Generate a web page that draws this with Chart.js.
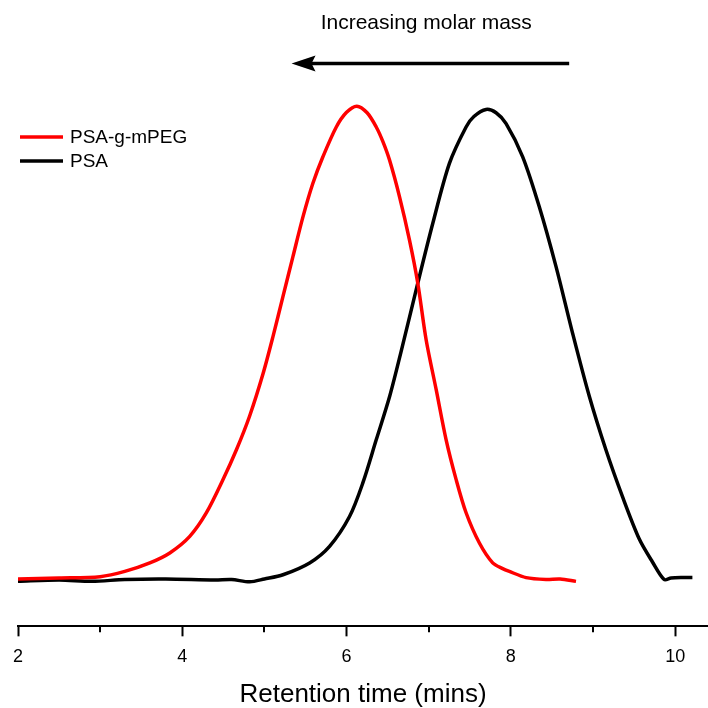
<!DOCTYPE html>
<html><head><meta charset="utf-8">
<script src="https://cdn.jsdelivr.net/npm/chart.js@4/dist/chart.umd.min.js"></script>
<style>html,body{margin:0;padding:0;background:#fff}#wrap{width:708px;height:708px}</style>
</head><body><div id="wrap"><canvas id="c" width="708" height="708"></canvas></div>
<script>
// ---- data ----
const seriesLabels = ['PSA-g-mPEG', 'PSA'];
const redX = [2.0, 2.5, 3.0, 3.3, 3.605, 3.848, 4.091, 4.294, 4.496, 4.659, 4.821, 4.982, 5.104, 5.226, 5.347, 5.469, 5.590, 5.712, 5.875, 6.00, 6.125, 6.25, 6.361, 6.44, 6.523, 6.644, 6.766, 6.867, 6.969, 7.091, 7.212, 7.334, 7.455, 7.617, 7.779, 7.90, 7.982, 8.185, 8.428, 8.60, 8.793];
const redY = [0.000, 0.002, 0.005, 0.016, 0.034, 0.055, 0.090, 0.140, 0.210, 0.273, 0.345, 0.433, 0.512, 0.597, 0.681, 0.765, 0.836, 0.892, 0.955, 0.986, 0.999, 0.985, 0.955, 0.925, 0.885, 0.808, 0.716, 0.625, 0.505, 0.400, 0.294, 0.210, 0.140, 0.076, 0.034, 0.022, 0.016, 0.003, -0.001, 0.000, -0.005];
const blackX = [2.0, 2.5, 2.9, 3.3, 3.8, 4.4, 4.6, 4.821, 5.0, 5.226, 5.550, 5.793, 6.036, 6.198, 6.361, 6.523, 6.663, 6.847, 7.049, 7.252, 7.455, 7.55, 7.698, 7.82, 7.942, 8.144, 8.347, 8.550, 8.752, 8.955, 9.157, 9.359, 9.562, 9.724, 9.866, 9.95, 10.089, 10.210];
const blackY = [-0.005, -0.002, -0.005, -0.001, 0.000, -0.002, -0.001, -0.006, 0.000, 0.009, 0.034, 0.069, 0.132, 0.203, 0.294, 0.385, 0.480, 0.611, 0.751, 0.878, 0.955, 0.977, 0.992, 0.985, 0.962, 0.892, 0.786, 0.660, 0.519, 0.386, 0.273, 0.174, 0.085, 0.036, -0.001, 0.002, 0.003, 0.003];
const majorTicks = [2, 4, 6, 8, 10];
const minorTicks = [3, 5, 7, 9];
const xTitle = 'Retention time (mins)';
const arrowLabel = 'Increasing molar mass';
const arrowStart = {x: 8.71, y: 1.089};
const arrowEnd = {x: 5.33, y: 1.089};
const arrowLabelPos = {x: 6.97, y: 1.175};

const toPts = (xs, ys) => xs.map((x, i) => ({x, y: ys[i]}));
const FONT = '"Liberation Sans", Arial, sans-serif';

const decor = {
  id: 'decor',
  afterDraw(chart) {
    const ctx = chart.ctx, xs = chart.scales.x, ys = chart.scales.y;
    const bottom = chart.chartArea.bottom;
    ctx.save();
    // minor ticks
    ctx.strokeStyle = '#000'; ctx.lineWidth = 2;
    minorTicks.forEach(v => {
      const px = Math.round(xs.getPixelForValue(v));
      ctx.beginPath(); ctx.moveTo(px, bottom); ctx.lineTo(px, bottom + 6); ctx.stroke();
    });
    // legend
    ctx.font = '19px ' + FONT; ctx.textBaseline = 'middle'; ctx.textAlign = 'left';
    chart.data.datasets.forEach((ds, i) => {
      const y = 137 + i * 24;
      ctx.strokeStyle = ds.borderColor; ctx.lineWidth = 3.5;
      ctx.beginPath(); ctx.moveTo(20, y); ctx.lineTo(63, y); ctx.stroke();
      ctx.fillStyle = '#000'; ctx.fillText(ds.label, 70, y + 1);
    });
    // arrow
    const x1 = xs.getPixelForValue(arrowStart.x), y1 = ys.getPixelForValue(arrowStart.y);
    const x2 = xs.getPixelForValue(arrowEnd.x), y2 = ys.getPixelForValue(arrowEnd.y);
    ctx.strokeStyle = '#000'; ctx.fillStyle = '#000'; ctx.lineWidth = 3.5;
    ctx.beginPath(); ctx.moveTo(x1, y1); ctx.lineTo(x2 + 18, y2); ctx.stroke();
    ctx.beginPath(); ctx.moveTo(x2, y2); ctx.lineTo(x2 + 24, y2 - 8); ctx.lineTo(x2 + 20, y2); ctx.lineTo(x2 + 24, y2 + 8); ctx.closePath(); ctx.fill();
    ctx.font = '21px ' + FONT; ctx.textAlign = 'center'; ctx.textBaseline = 'middle';
    ctx.fillText(arrowLabel, xs.getPixelForValue(arrowLabelPos.x), ys.getPixelForValue(arrowLabelPos.y));
    ctx.restore();
  }
};

new Chart(document.getElementById('c'), {
  type: 'line',
  data: {
    datasets: [
      {label: seriesLabels[0], data: toPts(redX, redY), borderColor: '#ff0000', borderWidth: 3.5, pointRadius: 0, tension: 0.3, fill: false},
      {label: seriesLabels[1], data: toPts(blackX, blackY), borderColor: '#000000', borderWidth: 3.5, pointRadius: 0, tension: 0.3, fill: false}
    ]
  },
  options: {
    responsive: false, animation: false, devicePixelRatio: 1,
    layout: {padding: {left: 18, right: 0, top: 11, bottom: 0}},
    plugins: {legend: {display: false}, tooltip: {enabled: false}},
    scales: {
      x: {
        type: 'linear', min: 2, max: 10.4,
        afterBuildTicks: s => { s.ticks = majorTicks.map(v => ({value: v})); },
        ticks: {color: '#000', font: {family: FONT, size: 18}, padding: 10, maxRotation: 0, includeBounds: false},
        grid: {drawOnChartArea: false, drawTicks: true, tickLength: 10, tickColor: '#000', tickWidth: 2},
        border: {display: true, color: '#000', width: 2},
        title: {display: true, text: xTitle, color: '#000', font: {family: FONT, size: 26, lineHeight: 1.31}, padding: {top: 0, bottom: -4}}
      },
      y: {type: 'linear', min: -0.1, max: 1.2, display: false}
    }
  },
  plugins: [decor]
});
</script></body></html>
